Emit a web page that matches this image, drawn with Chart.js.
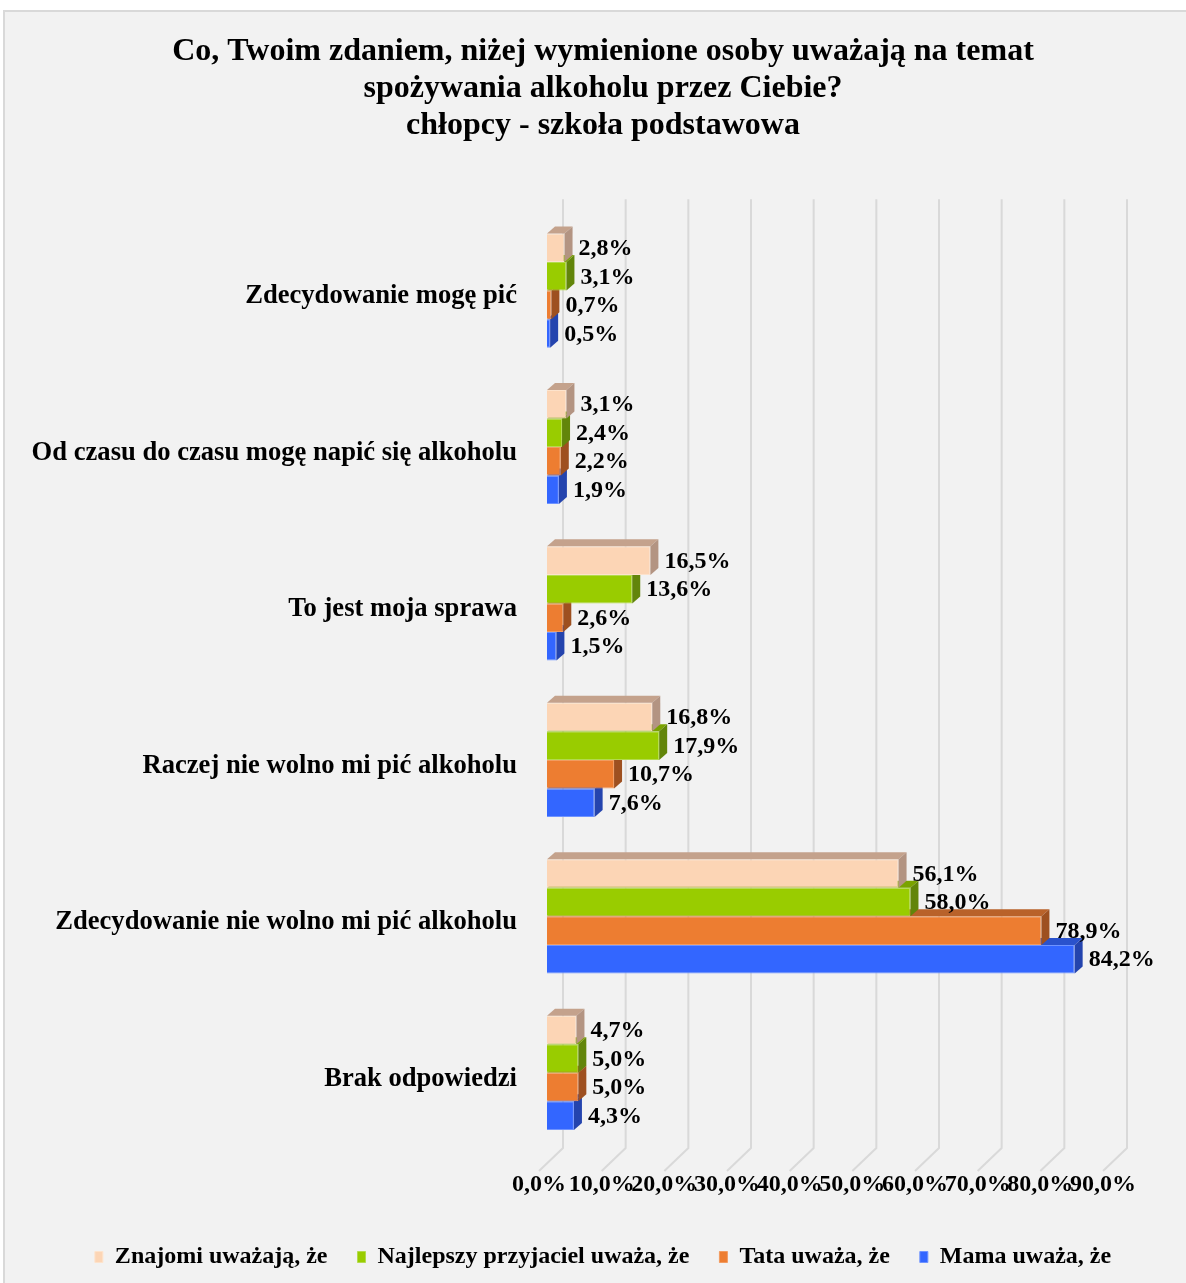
<!DOCTYPE html>
<html>
<head>
<meta charset="utf-8">
<script src="https://cdn.jsdelivr.net/npm/chart.js@4.4.0/dist/chart.umd.min.js"></script>
<style>
  body { margin: 0; background: #ffffff; overflow: hidden; }
  #box { position: absolute; left: 3px; top: 10px; width: 1200px; height: 1290px; background: #F2F2F2; border: 2px solid #D9D9D9; box-sizing: border-box; }
  #chart { position: absolute; left: 0; top: 0; }
</style>
</head>
<body>
<div id="box"></div>
<canvas id="chart" width="1186" height="1283"></canvas>
<script>
const categories = [
    'Zdecydowanie mogę pić',
    'Od czasu do czasu mogę napić się alkoholu',
    'To jest moja sprawa',
    'Raczej nie wolno mi pić alkoholu',
    'Zdecydowanie nie wolno mi pić alkoholu',
    'Brak odpowiedzi'
];
const seriesNames = ['Znajomi uważają, że', 'Najlepszy przyjaciel uważa, że', 'Tata uważa, że', 'Mama uważa, że'];
const znajomi = [2.8, 3.1, 16.5, 16.8, 56.1, 4.7];
const przyjaciel = [3.1, 2.4, 13.6, 17.9, 58.0, 5.0];
const tata = [0.7, 2.2, 2.6, 10.7, 78.9, 5.0];
const mama = [0.5, 1.9, 1.5, 7.6, 84.2, 4.3];
const axisMax = 90;
const axisStep = 10;

const frontColors = ['#FCD5B5', '#99CC00', '#ED7D31', '#3366FF'];
const topColors = ['#C4A28C', '#7AA300', '#B9622A', '#2A52CC'];
const sideColors = ['#B39482', '#62850A', '#9E5020', '#2444AE'];
const edgeColors = ['#FDE3CC', '#B3DB4D', '#F29B60', '#6F93FF'];
const FONT = '"Liberation Serif", "Times New Roman", serif';
const DX = 8, DY = -7;

const fmt = v => v.toFixed(1).replace('.', ',') + '%';

const faces3d = {
    id: 'faces3d',
    beforeDatasetsDraw(chart) {
        const {ctx, chartArea} = chart;
        const xs = chart.scales.x;
        ctx.save();
        ctx.strokeStyle = '#D9D9D9';
        ctx.lineWidth = 2;
        for (let v = 0; v <= axisMax; v += axisStep) {
            const px = xs.getPixelForValue(v);
            ctx.beginPath();
            ctx.moveTo(px + 16, chartArea.top - 13);
            ctx.lineTo(px + 16, chartArea.bottom - 3);
            ctx.lineTo(px - 8, chartArea.bottom + 20);
            ctx.stroke();
        }
        ctx.restore();
    },
    afterDatasetDraw(chart, args) {
        const {ctx} = chart;
        const i = args.index;
        ctx.save();
        args.meta.data.forEach(bar => {
            const {x, y, base, height} = bar.getProps(['x', 'y', 'base', 'height'], true);
            const top = y - height / 2, bottom = y + height / 2;
            ctx.fillStyle = topColors[i];
            ctx.beginPath();
            ctx.moveTo(base, top);
            ctx.lineTo(base + DX, top + DY);
            ctx.lineTo(x + DX, top + DY);
            ctx.lineTo(x, top);
            ctx.closePath();
            ctx.fill();
            ctx.fillStyle = sideColors[i];
            ctx.beginPath();
            ctx.moveTo(x, top);
            ctx.lineTo(x + DX, top + DY);
            ctx.lineTo(x + DX, bottom + DY);
            ctx.lineTo(x, bottom);
            ctx.closePath();
            ctx.fill();
        });
        ctx.restore();
    },
    afterDatasetsDraw(chart) {
        const {ctx} = chart;
        ctx.save();
        ctx.fillStyle = '#000';
        ctx.font = 'bold 24px ' + FONT;
        ctx.textAlign = 'left';
        ctx.textBaseline = 'middle';
        chart.data.datasets.forEach((ds, i) => {
            chart.getDatasetMeta(i).data.forEach((bar, j) => {
                ctx.fillText(fmt(ds.data[j]), bar.x + 14, bar.y + 1);
            });
        });
        ctx.restore();
    }
};

new Chart(document.getElementById('chart'), {
    type: 'bar',
    data: {
        labels: categories,
        datasets: [
            {label: seriesNames[0], data: znajomi},
            {label: seriesNames[1], data: przyjaciel},
            {label: seriesNames[2], data: tata},
            {label: seriesNames[3], data: mama}
        ].map((d, i) => Object.assign(d, {
            backgroundColor: frontColors[i],
            borderColor: edgeColors[i],
            borderWidth: 1,
            categoryPercentage: 0.73,
            barPercentage: 1
        }))
    },
    plugins: [faces3d],
    options: {
        indexAxis: 'y',
        responsive: false,
        animation: false,
        layout: {padding: {left: 20, right: 0, top: 10, bottom: 4}},
        plugins: {
            title: {
                display: true,
                text: ['Co, Twoim zdaniem, niżej wymienione osoby uważają na temat', 'spożywania alkoholu przez Ciebie?', 'chłopcy - szkoła podstawowa'],
                color: '#000',
                font: {family: FONT, size: 32, weight: 'bold', lineHeight: 1.16},
                padding: {top: 23, bottom: 68}
            },
            legend: {
                position: 'bottom',
                labels: {
                    color: '#000',
                    font: {family: FONT, size: 24, weight: 'bold'},
                    boxWidth: 8,
                    boxHeight: 11,
                    padding: 30
                }
            },
            tooltip: {enabled: false}
        },
        scales: {
            x: {
                min: 0,
                max: axisMax,
                grid: {display: false, drawTicks: false},
                border: {display: false},
                afterFit(scale) { scale.height = 64; },
                ticks: {
                    stepSize: axisStep,
                    autoSkip: false,
                    maxRotation: 0,
                    padding: 19,
                    labelOffset: -8,
                    color: '#000',
                    font: {family: FONT, size: 24, weight: 'bold'},
                    callback: v => fmt(v)
                }
            },
            y: {
                grid: {display: false, drawTicks: false},
                border: {display: false},
                afterFit(scale) { scale.width = 527; },
                ticks: {
                    padding: 30,
                    labelOffset: 6,
                    color: '#000',
                    font: {family: FONT, size: 26.6, weight: 'bold'}
                }
            },
            yRight: {
                type: 'category',
                position: 'right',
                grid: {display: false, drawTicks: false},
                border: {display: false},
                ticks: {display: false},
                afterFit(scale) { scale.width = 75; }
            }
        }
    }
});
</script>
</body>
</html>
